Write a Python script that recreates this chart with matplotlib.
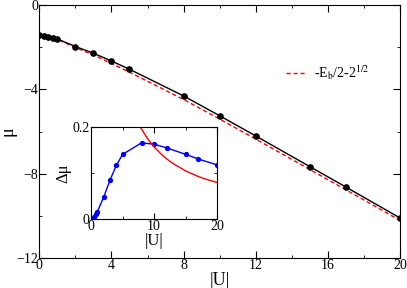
import matplotlib
matplotlib.use('Agg')
import matplotlib.pyplot as plt
from matplotlib.ticker import MultipleLocator

# main panel data
U      = [0, 0.25, 0.5, 0.75, 1, 2, 3, 4, 5, 8, 10, 12, 15, 17, 20]
mu     = [-1.41, -1.46, -1.50, -1.55, -1.60, -1.96, -2.28, -2.65, -3.04,
          -4.31, -5.25, -6.21, -7.67, -8.64, -10.11]
mu_eb  = [-1.41, -1.46, -1.51, -1.56, -1.62, -2.01, -2.36, -2.77, -3.18,
          -4.48, -5.41, -6.36, -7.81, -8.77, -10.23]

# inset data
dmu    = [0, 0.002, 0.005, 0.010, 0.016, 0.047, 0.084, 0.116, 0.140,
          0.165, 0.162, 0.154, 0.140, 0.130, 0.117]
U_red  = [7.75, 8, 8.5, 9, 10, 11, 12, 13, 14, 15, 16, 17, 18, 19, 20]
d_red  = [0.200, 0.195, 0.184, 0.173, 0.156, 0.142, 0.130, 0.120, 0.112,
          0.104, 0.098, 0.092, 0.087, 0.083, 0.079]

plt.rcParams.update({'font.family': ['Liberation Serif', 'DejaVu Serif'],
                     'mathtext.fontset': 'stix',
                     'xtick.direction': 'in', 'ytick.direction': 'in',
                     'xtick.top': True, 'ytick.right': True})

fig = plt.figure(figsize=(4.07, 2.88), dpi=100)
ax = fig.add_axes([0.0966, 0.1052, 0.8862, 0.8764])

ax.plot(U, mu_eb, color='red', ls='--', lw=1, dashes=(3, 2), label=r'-E$_{\rm b}$/2-2$^{1/2}$', zorder=2)
ax.plot(U, mu, color='black', lw=1, marker='o', ms=3.8, zorder=3)

ax.set_xlim(0, 20)
ax.set_ylim(-12, 0)
ax.xaxis.set_major_locator(MultipleLocator(4))
ax.xaxis.set_minor_locator(MultipleLocator(2))
ax.yaxis.set_major_locator(MultipleLocator(4))
ax.yaxis.set_minor_locator(MultipleLocator(2))
ax.tick_params(which='major', length=5, labelsize=10, pad=1)
ax.tick_params(which='minor', length=2.5)
ax.set_xlabel('|U|', fontsize=13, labelpad=0)
ax.set_ylabel('μ', fontsize=13)
ax.yaxis.set_label_coords(-0.062, 0.5)

ax.legend(loc='center right', bbox_to_anchor=(0.95, 0.732), frameon=False,
          fontsize=10, handlelength=1.4, handletextpad=0.6)

# inset
ins = fig.add_axes([0.2236, 0.2396, 0.3103, 0.3205])
ins.plot(U, dmu, color='blue', lw=1, marker='o', ms=2.8)
ins.plot(U_red, d_red, color='red', lw=1)
ins.set_xlim(0, 20)
ins.set_ylim(0, 0.2)
ins.xaxis.set_major_locator(MultipleLocator(10))
ins.xaxis.set_minor_locator(MultipleLocator(5))
ins.yaxis.set_minor_locator(MultipleLocator(0.1))
ins.set_yticks([0, 0.2], ['0', '0.2'])
ins.tick_params(which='major', length=4, labelsize=10, pad=1)
ins.tick_params(which='minor', length=2)
ins.set_xlabel('|U|', fontsize=12, labelpad=0)
ins.set_ylabel('Δμ', fontsize=12, labelpad=1)

fig.savefig('out.png', dpi=100)
